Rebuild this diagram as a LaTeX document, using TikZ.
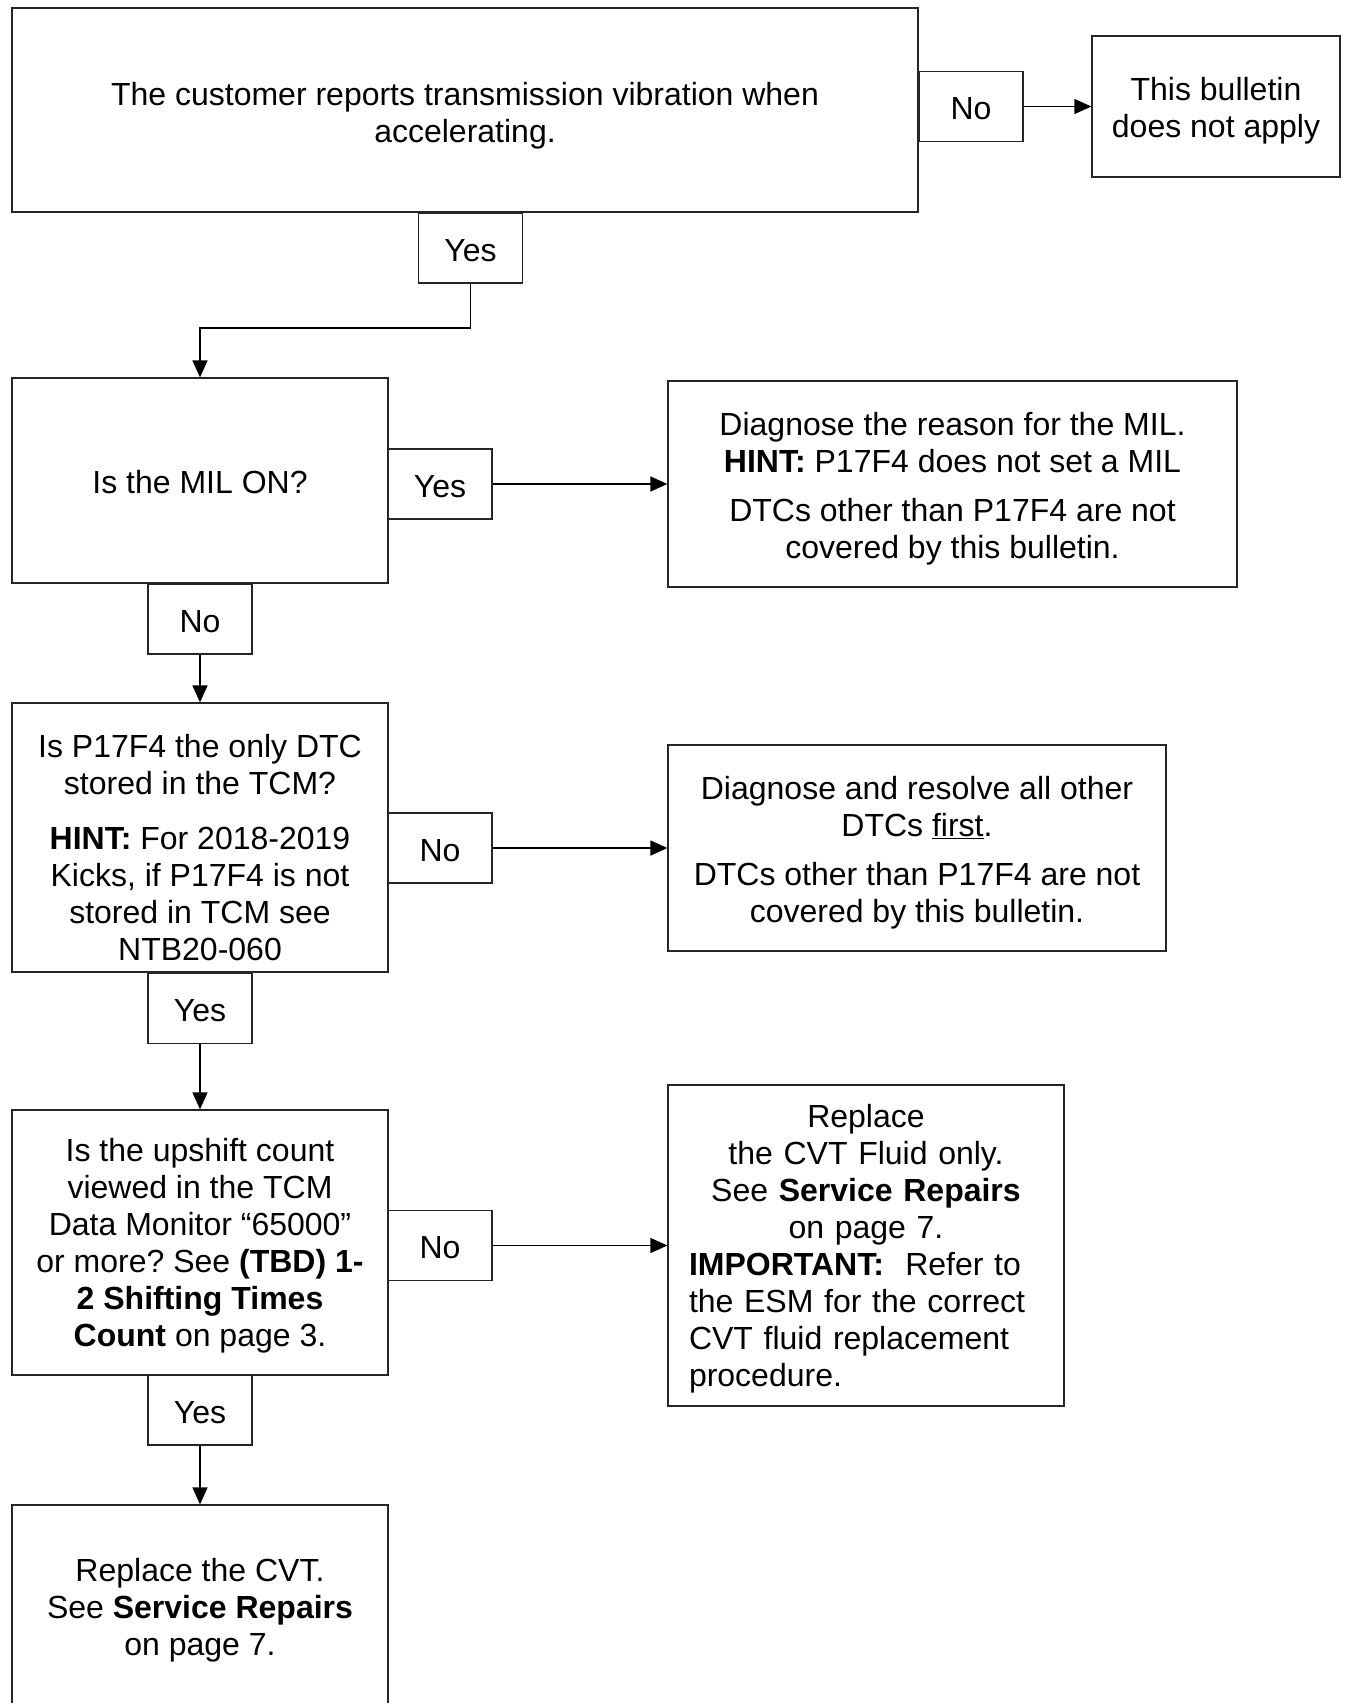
\documentclass[tikz,border=0pt]{standalone}
\usepackage{fontspec}
\setmainfont{Liberation Sans}
\usepackage{tikz}
\usetikzlibrary{positioning, arrows.meta}
\frenchspacing
% pushes the text of a box down a little
\newcommand\padtop[1]{\rule{0pt}{#1}}
\tikzset{
  stepbox/.style={draw=black!85, line width=1.3pt, inner sep=0pt, align=center},
  ansbox/.style={stepbox, minimum width=104pt, minimum height=70pt, text height=26pt, text depth=0pt},
  arr/.style={-{Triangle[length=17pt,width=15pt]}, line width=1.7pt},
}

\begin{document}
\begin{tikzpicture}[x=1pt, y=-1pt, font=\fontsize{32}{37}\selectfont]
  \useasboundingbox (0,0) rectangle (1347,1703);
  % first question and its answers
  \node[stepbox, minimum width=906pt, minimum height=204pt] (cust) at (465,110)
    {\padtop{34pt}The customer reports transmission vibration when\\ accelerating.};
  \node[ansbox] (noA) at (971,106.5) {No};
  \node[stepbox, minimum width=248pt, minimum height=141pt] (notapply) at (1216,106.5)
    {\padtop{32pt}This bulletin\\ does not apply};
  \node[ansbox] (yesA) at (470.5,248) {Yes};
  \coordinate (bend) at (200,328);
  % MIL
  \node[stepbox, minimum width=376pt, minimum height=205pt] (mil) at (200,480.5)
    {\padtop{27pt}Is the MIL ON?};
  \node[ansbox] (yesB) at (440,484) {Yes};
  \node[stepbox, minimum width=569pt, minimum height=206pt] (milfix) at (952.5,484)
    {\padtop{32pt}Diagnose the reason for the MIL.\\ \textbf{HINT:} P17F4 does not set a MIL\\[12pt]
     DTCs other than P17F4 are not\\ covered by this bulletin.};
  \node[ansbox] (noB) at (200,619) {No};
  % DTC
  \node[stepbox, minimum width=376pt, minimum height=269pt] (dtc) at (200,837.5)
    {\padtop{43pt}Is P17F4 the only DTC\\ stored in the TCM?\\[18pt] \textbf{HINT:} For 2018-2019\\
     Kicks, if P17F4 is not\\ stored in TCM see\\ NTB20-060};
  \node[ansbox] (noC) at (440,848) {No};
  \node[stepbox, minimum width=498pt, minimum height=206pt] (dtcfix) at (917,848)
    {\padtop{32pt}Diagnose and resolve all other\\ DTCs \underline{first}.\\[12pt]
     DTCs other than P17F4 are not\\ covered by this bulletin.};
  \node[ansbox] (yesC) at (200,1008.5) {Yes};
  % upshift count
  \node[stepbox, minimum width=376pt, minimum height=265pt] (count) at (200,1242.5)
    {\padtop{29.5pt}Is the upshift count\\ viewed in the TCM\\ Data Monitor “65000”\\
     or more? See \textbf{(TBD) 1-}\\ \textbf{2 Shifting Times}\\ \textbf{Count} on page 3.};
  \node[ansbox] (noD) at (440,1245.5) {No};
  \node[stepbox, minimum width=396pt, minimum height=321pt, text width=354pt] (fluid) at (866,1245.5)
    {\centering\padtop{30.5pt}Replace\\ the CVT Fluid only.\\ See \textbf{Service Repairs}\\ on page 7.\par
     \raggedright\textbf{IMPORTANT:}~\ Refer to\\ the ESM for the correct\\
     CVT fluid replacement\\ procedure.\par};
  \node[ansbox] (yesD) at (200,1410) {Yes};
  \node[stepbox, minimum width=376pt, minimum height=206pt] (cvt) at (200,1608)
    {\padtop{27pt}Replace the CVT.\\ See \textbf{Service Repairs}\\ on page 7.};
  % connectors
  \draw[arr] (noA.east) -- (notapply.west);
  \draw[arr] (yesA.south) |- (bend) -- (mil.north);
  \draw[arr] (yesB.east) -- (milfix.west);
  \draw[arr] (noB.south) -- (dtc.north);
  \draw[arr] (noC.east) -- (dtcfix.west);
  \draw[arr] (yesC.south) -- (count.north);
  \draw[arr] (noD.east) -- (fluid.west);
  \draw[arr] (yesD.south) -- (cvt.north);
\end{tikzpicture}
\end{document}
